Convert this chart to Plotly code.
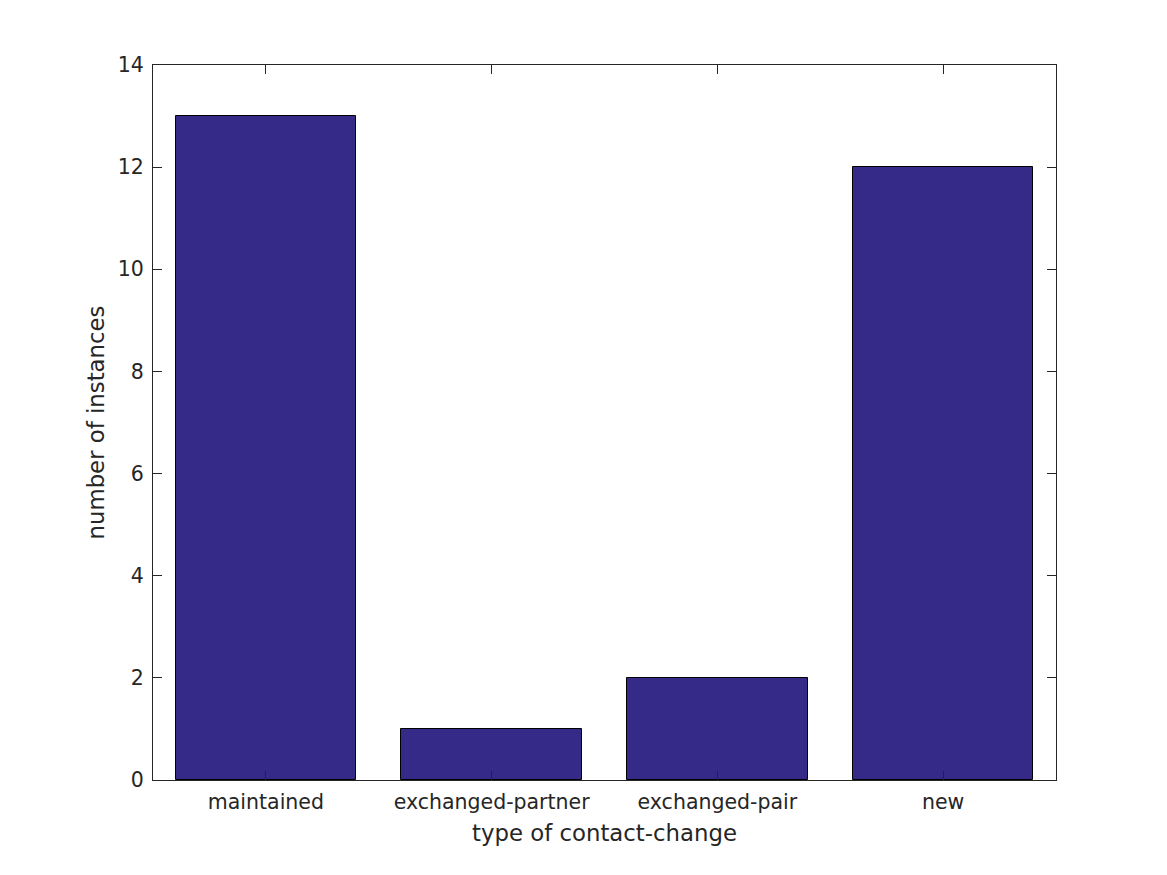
import plotly.graph_objects as go

categories = ["maintained", "exchanged-partner", "exchanged-pair", "new"]
counts = [13, 1, 2, 12]
y_ticks = [0, 2, 4, 6, 8, 10, 12, 14]

axis_color = "#262626"
font_family = "DejaVu Sans"

fig = go.Figure()
fig.add_trace(go.Bar(
    x=list(range(1, len(categories) + 1)),
    y=counts,
    width=0.8,
    marker=dict(color="#352a87", line=dict(color="#000000", width=1)),
))

fig.update_layout(
    width=1167, height=875,
    paper_bgcolor="white", plot_bgcolor="white",
    margin=dict(l=145, r=119, t=57, b=103),
    showlegend=False,
    font=dict(family=font_family, color=axis_color, size=20),
    bargap=0,
)
fig.update_xaxes(
    range=[0.5, 4.5],
    tickmode="array",
    tickvals=list(range(1, len(categories) + 1)),
    ticktext=categories,
    ticks="inside", ticklen=9, tickcolor=axis_color, tickwidth=1,
    showline=True, linecolor=axis_color, linewidth=1, mirror="ticks",
    showgrid=False, zeroline=False,
    tickfont=dict(size=20.5),
    ticklabelstandoff=3,
    title=dict(text="type of contact-change", font=dict(size=22.8), standoff=12),
)
fig.update_yaxes(
    range=[0, 14],
    tickmode="array",
    tickvals=y_ticks,
    ticks="inside", ticklen=9, tickcolor=axis_color, tickwidth=1,
    showline=True, linecolor=axis_color, linewidth=1, mirror="ticks",
    showgrid=False, zeroline=False,
    tickfont=dict(size=20.5),
    ticklabelstandoff=4,
    title=dict(text="number of instances", font=dict(size=22.8), standoff=6),
)

fig.write_html("out.html")
